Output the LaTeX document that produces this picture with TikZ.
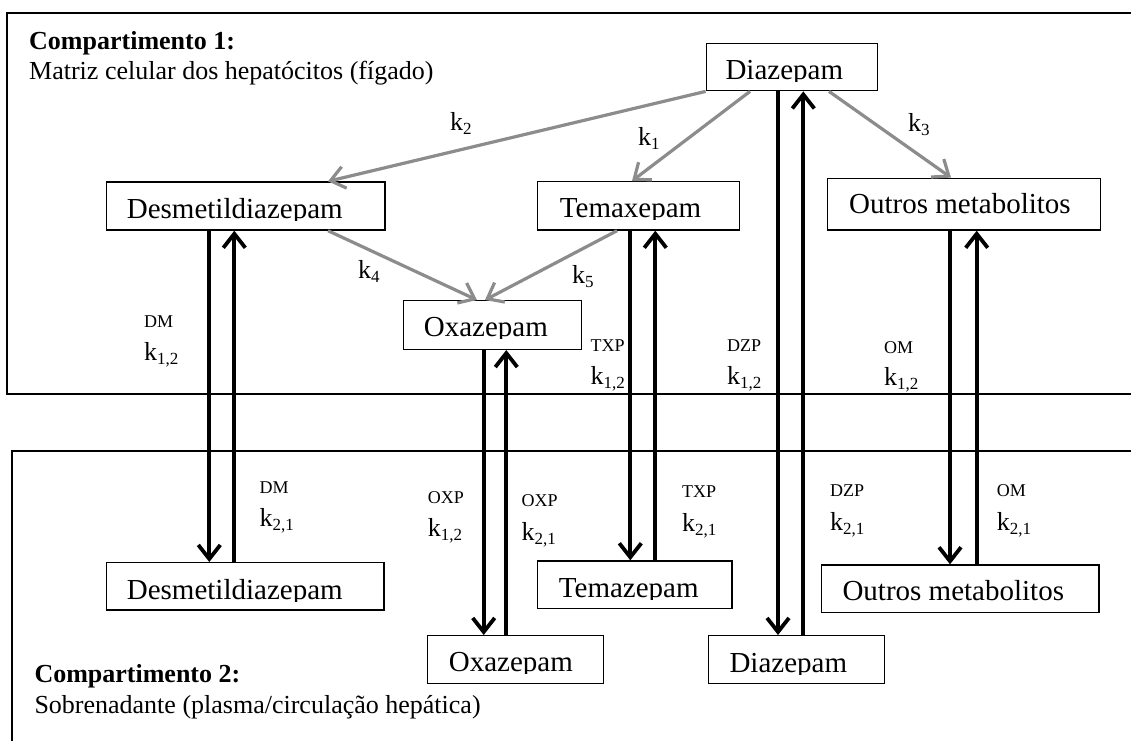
\documentclass[tikz,border=0pt]{standalone}
\usepackage{fontspec}
\setmainfont{Liberation Serif}
\usetikzlibrary{arrows.meta}

\definecolor{convgray}{RGB}{140,140,140}

\newcommand\ksub[1]{\raisebox{-4pt}{\fontsize{17}{17}\selectfont #1}}

% name, x1, y1, x2, y2, text x, text baseline, text
\newcommand\drugbox[8]{%
  \node[box, minimum width={(#4-#2)*1pt}, minimum height={(#5-#3)*1pt}]
    (#1) at ({(#2+#4)/2},{(#3+#5)/2}) {};
  \begin{scope}
    \clip ({#2},{#3}) rectangle ({#4},{#7+2});
    \node[boxtext] (#1-t) at ({#6},{#7}) {#8};
  \end{scope}}

% name, x, baseline of tag, baseline of k, tag, subscript
\newcommand\ratepair[6]{%
  \node[tag] (#1-s) at ({#2},{#3}) {#5};
  \node[rate] (#1-k) at ({#2},{#4}) {k\ksub{#6}};}

\begin{document}
\begin{tikzpicture}[x=1pt, y=-1pt,
  box/.style={draw, line width=1.4pt, rectangle, inner sep=0pt},
  comp/.style={draw, line width=2pt},
  boxtext/.style={anchor=base west, inner sep=0pt, font=\fontsize{29}{29}\selectfont},
  head/.style={anchor=base west, inner sep=0pt, font=\fontsize{26}{26}\selectfont\bfseries},
  note/.style={anchor=base west, inner sep=0pt, font=\fontsize{26}{26}\selectfont},
  tag/.style={anchor=base west, inner sep=0pt, font=\fontsize{18}{18}\selectfont},
  rate/.style={anchor=base west, inner sep=0pt, font=\fontsize{26}{26}\selectfont},
  flux/.style={line width=3.8pt, -{Straight Barb[length=14pt,width=22pt]}},
  conv/.style={draw=convgray, line width=3.2pt, -{Straight Barb[length=14pt,width=22pt]}}]

\useasboundingbox (0,0) rectangle (1131,740);
\clip (0,0) rectangle (1131,740);

% compartments
\draw[comp] (7,13) rectangle (1150,394);
\draw[comp] (12,451) rectangle (1150,770);

\node[head] (c1) at (29,49) {Compartimento 1:};
\node[note] (c1d) at (29,79) {Matriz celular dos hepatócitos (fígado)};
\node[head] (c2) at (34.3,682.7) {Compartimento 2:};
\node[note] (c2d) at (34.3,713.3) {Sobrenadante (plasma/circulação hepática)};

% compartment 1 species
\drugbox{dzA}{706.3}{43.3}{877.3}{90.7}{725.3}{79.5}{Diazepam}
\drugbox{dmA}{106.7}{182}{385}{230}{126.7}{218}{Desmetildiazepam}
\drugbox{txA}{537.3}{181.7}{739.3}{230}{559.7}{217.7}{Temaxepam}
\drugbox{omA}{827.3}{178.3}{1100.7}{230}{849}{213.3}{Outros metabolitos}
\drugbox{oxA}{403.7}{300.7}{581.3}{349.3}{423.7}{336.7}{Oxazepam}

% compartment 2 species
\drugbox{dmB}{106.7}{562.7}{384}{610}{126.7}{599.3}{Desmetildiazepam}
\drugbox{txB}{537.3}{561}{732}{608.3}{558.7}{597.3}{Temazepam}
\drugbox{oxB}{427.7}{635.7}{603.7}{683.3}{448.7}{671.7}{Oxazepam}
\drugbox{dzB}{708.7}{635.7}{884.7}{683.3}{729.3}{672.3}{Diazepam}
\drugbox{omB}{821.7}{565}{1099}{612.3}{842.3}{600.7}{Outros metabolitos}

% metabolic conversions
\draw[conv] (dzA.south west) -- (328,0 |- dmA.north);
\draw[conv] (750,0 |- dzA.south) -- (632,0 |- txA.north);
\draw[conv] (829,0 |- dzA.south) -- (951,0 |- omA.north);
\draw[conv] (328,0 |- dmA.south) -- (477,0 |- oxA.north);
\draw[conv] (617,0 |- txA.south) -- (485,0 |- oxA.north);

\node[rate] (k2) at (450,130) {k\ksub{2}};
\node[rate] (k1) at (638,145) {k\ksub{1}};
\node[rate] (k3) at (908,131.7) {k\ksub{3}};
\node[rate] (k4) at (358,278) {k\ksub{4}};
\node[rate] (k5) at (572,283) {k\ksub{5}};

% exchange between compartments
\draw[flux] (209.3,0 |- dmA.south) -- (209.3,0 |- dmB.north);
\draw[flux] (234.3,0 |- dmB.north) -- (234.3,0 |- dmA.south);
\draw[flux] (483.7,0 |- oxA.south) -- (483.7,0 |- oxB.north);
\draw[flux] (506.3,0 |- oxB.north) -- (506.3,0 |- oxA.south);
\draw[flux] (630.3,0 |- txA.south) -- (630.3,0 |- txB.north);
\draw[flux] (655.3,0 |- txB.north) -- (655.3,0 |- txA.south);
\draw[flux] (778,0 |- dzA.south) -- (778,0 |- dzB.north);
\draw[flux] (803.3,0 |- dzB.north) -- (803.3,0 |- dzA.south);
\draw[flux] (950,0 |- omA.south) -- (950,0 |- omB.north);
\draw[flux] (976.7,0 |- omB.north) -- (976.7,0 |- omA.south);

\ratepair{dmUp}{144}{327}{360}{DM}{1,2}
\ratepair{txUp}{590.3}{351}{384}{TXP}{1,2}
\ratepair{dzUp}{727}{351}{384}{DZP}{1,2}
\ratepair{omUp}{884}{353}{385}{OM}{1,2}
\ratepair{dmDn}{259.3}{493.3}{526.7}{DM}{2,1}
\ratepair{oxDnA}{427.7}{503.3}{536.7}{OXP}{1,2}
\ratepair{oxDnB}{521.3}{506.7}{540}{OXP}{2,1}
\ratepair{txDn}{682}{497.3}{531.7}{TXP}{2,1}
\ratepair{dzDn}{830}{496.7}{530}{DZP}{2,1}
\ratepair{omDn}{996.7}{496.7}{530}{OM}{2,1}
\end{tikzpicture}
\end{document}
